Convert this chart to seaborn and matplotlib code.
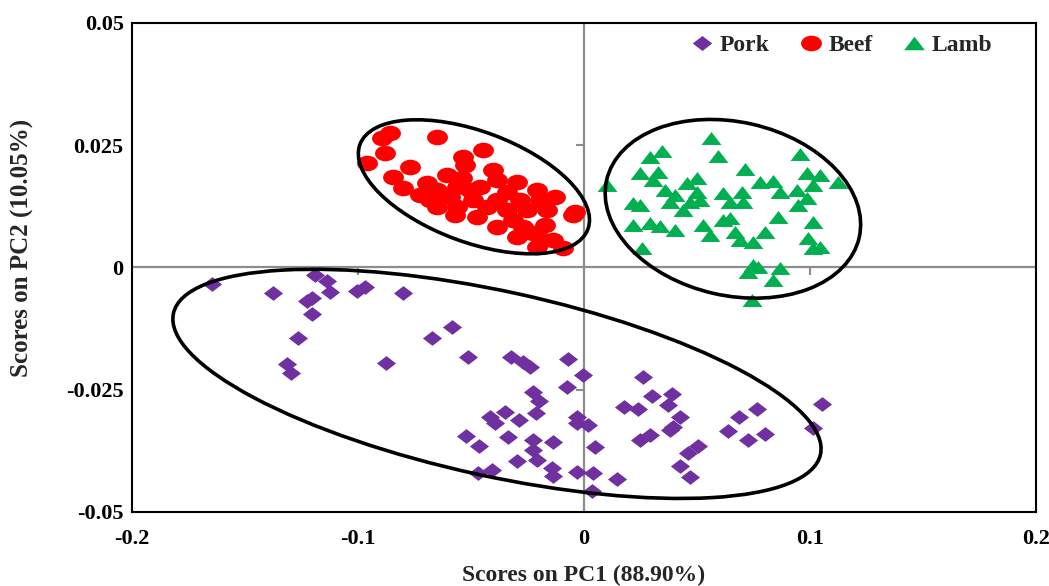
import numpy as np
import pandas as pd
import matplotlib
matplotlib.use("Agg")
import matplotlib.pyplot as plt
import seaborn as sns
from matplotlib.path import Path
from matplotlib.patches import Ellipse
from matplotlib.lines import Line2D
from matplotlib.transforms import Affine2D
from matplotlib import markers as mmarkers

# ---------------- data ----------------
pork_pc1 = [-0.1646, -0.1376, -0.1190, -0.1137, -0.1124, -0.1204, -0.1226, -0.1204, -0.1265,
            -0.1314, -0.1296, -0.1004, -0.0969, -0.0801, -0.0876, -0.0673, -0.0584, -0.0513,
            -0.0323, -0.0270, -0.0239, -0.0071, -0.0004, 0.0261, -0.0075, -0.0226, -0.0199,
            0.0301, 0.0389, 0.0372, 0.0177, 0.0239, -0.0416, -0.0350, -0.0394, -0.0288,
            -0.0212, -0.0031, -0.0031, 0.0018, 0.0425, 0.0394, 0.0381, 0.1053, 0.0686,
            0.0765, 0.0637, 0.0726, 0.0801, 0.1013, -0.0522, -0.0465, -0.0336, -0.0226,
            -0.0137, -0.0226, -0.0208, -0.0296, 0.0049, 0.0248, 0.0292, 0.0504, 0.0460,
            0.0425, 0.0469, -0.0469, -0.0407, -0.0142, -0.0137, -0.0031, 0.0040, 0.0146,
            0.0035]
pork_pc2 = [-0.0034, -0.0052, -0.0015, -0.0028, -0.0050, -0.0062, -0.0069, -0.0095, -0.0144,
            -0.0197, -0.0216, -0.0048, -0.0040, -0.0052, -0.0195, -0.0144, -0.0122, -0.0183,
            -0.0183, -0.0193, -0.0203, -0.0187, -0.0220, -0.0224, -0.0244, -0.0255, -0.0273,
            -0.0263, -0.0259, -0.0281, -0.0285, -0.0289, -0.0306, -0.0296, -0.0318, -0.0312,
            -0.0298, -0.0306, -0.0318, -0.0322, -0.0306, -0.0326, -0.0332, -0.0279, -0.0306,
            -0.0289, -0.0334, -0.0353, -0.0340, -0.0328, -0.0345, -0.0365, -0.0347, -0.0353,
            -0.0357, -0.0373, -0.0394, -0.0396, -0.0367, -0.0353, -0.0343, -0.0365, -0.0379,
            -0.0406, -0.0428, -0.0420, -0.0414, -0.0410, -0.0426, -0.0418, -0.0420, -0.0432,
            -0.0457]

beef_pc1 = [-0.0858, -0.0894, -0.0650, -0.0881, -0.0960, -0.0770, -0.0845, -0.0801, -0.0535,
            -0.0447, -0.0527, -0.0403, -0.0606, -0.0540, -0.0695, -0.0726, -0.0650, -0.0593,
            -0.0650, -0.0562, -0.0460, -0.0385, -0.0296, -0.0341, -0.0385, -0.0429, -0.0473,
            -0.0341, -0.0385, -0.0314, -0.0208, -0.0128, -0.0195, -0.0252, -0.0164, -0.0049,
            -0.0270, -0.0296, -0.0226, -0.0181, -0.0137, -0.0208, -0.0093, -0.0491, -0.0562,
            -0.0681, -0.0624, -0.0504, -0.0571, -0.0283, -0.0173, -0.0040]
beef_pc2 = [0.0275, 0.0265, 0.0267, 0.0234, 0.0214, 0.0206, 0.0185, 0.0163, 0.0226,
            0.0240, 0.0210, 0.0199, 0.0189, 0.0183, 0.0173, 0.0148, 0.0158, 0.0144,
            0.0124, 0.0124, 0.0165, 0.0179, 0.0175, 0.0154, 0.0138, 0.0124, 0.0103,
            0.0118, 0.0083, 0.0097, 0.0158, 0.0144, 0.0138, 0.0118, 0.0118, 0.0107,
            0.0083, 0.0062, 0.0071, 0.0056, 0.0056, 0.0042, 0.0040, 0.0138, 0.0165,
            0.0138, 0.0148, 0.0158, 0.0107, 0.0138, 0.0087, 0.0113]

lamb_pc1 = [0.0562, 0.0593, 0.0345, 0.0292, 0.0956, 0.0712, 0.0102, 0.0248, 0.0327, 0.0305,
            0.0456, 0.0500, 0.0358, 0.0403, 0.0500, 0.0615, 0.0699, 0.0779, 0.0836, 0.0867,
            0.0987, 0.1044, 0.1124, 0.1013, 0.0942, 0.0987, 0.0947, 0.0858, 0.0217, 0.0248,
            0.0381, 0.0438, 0.0469, 0.0513, 0.0646, 0.0704, 0.0217, 0.0292, 0.0336, 0.0403,
            0.0527, 0.0558, 0.0615, 0.0646, 0.0668, 0.0690, 0.0748, 0.0801, 0.1013, 0.0991,
            0.1044, 0.1013, 0.0257, 0.0748, 0.0770, 0.0726, 0.0867, 0.0836, 0.0743]
lamb_pc2 = [0.0265, 0.0228, 0.0238, 0.0226, 0.0232, 0.0201, 0.0169, 0.0193, 0.0195, 0.0179,
            0.0173, 0.0183, 0.0158, 0.0148, 0.0154, 0.0152, 0.0154, 0.0175, 0.0177, 0.0154,
            0.0193, 0.0189, 0.0175, 0.0169, 0.0158, 0.0142, 0.0128, 0.0103, 0.0132, 0.0128,
            0.0134, 0.0118, 0.0134, 0.0138, 0.0134, 0.0134, 0.0087, 0.0091, 0.0085, 0.0077,
            0.0087, 0.0066, 0.0097, 0.0101, 0.0073, 0.0056, 0.0052, 0.0073, 0.0093, 0.0060,
            0.0042, 0.0040, 0.0040, 0.0005, 0.0001, -0.0009, -0.0001, -0.0026, -0.0066]

groups = ["Pork", "Beef", "Lamb"]
colors = {"Pork": "#7030A0", "Beef": "#FF0000", "Lamb": "#00B050"}

# group outlines drawn in the chart (Pork, Beef, Lamb): centre in score units,
# semi-axes in PC1 units (on screen), tilt in degrees
ellipse_center_pc1 = [-0.0385, -0.0487, 0.0659]
ellipse_center_pc2 = [-0.0238, 0.0165, 0.0120]
ellipse_semi_major = [0.1465, 0.0538, 0.0573]
ellipse_semi_minor = [0.0409, 0.0245, 0.0384]
ellipse_tilt_deg = [-12.3, -20.4, -12.8]

x_ticks = [-0.2, -0.1, 0, 0.1, 0.2]
x_tick_labels = ["-0.2", "-0.1", "0", "0.1", "0.2"]
y_ticks = [-0.05, -0.025, 0, 0.025, 0.05]
y_tick_labels = ["-0.05", "-0.025", "0", "0.025", "0.05"]

df = pd.DataFrame({
    "PC1": pork_pc1 + beef_pc1 + lamb_pc1,
    "PC2": pork_pc2 + beef_pc2 + lamb_pc2,
    "Meat": ["Pork"] * len(pork_pc1) + ["Beef"] * len(beef_pc1) + ["Lamb"] * len(lamb_pc1),
})

# ---------------- styling ----------------
sns.set_theme(style="white")
plt.rcParams["font.family"] = ["Liberation Serif", "DejaVu Serif"]
plt.rcParams["font.weight"] = "bold"

diamond = Path([(-1, 0), (0, 0.77), (1, 0), (0, -0.77), (-1, 0)], closed=True)
triangle = Path([(-1, -0.65), (1, -0.65), (0, 0.65), (-1, -0.65)], closed=True)
_uc = Path.unit_circle()
oval = Path(_uc.vertices * np.array([1.0, 0.75]), _uc.codes)
marker_for = {"Pork": diamond, "Beef": oval, "Lamb": triangle}
size_for = {"Pork": 190, "Beef": 225, "Lamb": 205}

fig = plt.figure(figsize=(10.49, 5.86), dpi=100)
ax = fig.add_axes([0.1258, 0.1263, 0.9876 - 0.1258, 0.9608 - 0.1263])
ax.set_xlim(x_ticks[0], x_ticks[-1])
ax.set_ylim(y_ticks[0], y_ticks[-1])

# zero lines with their small ticks
grey = "#8c8c8c"
ax.axhline(0, color=grey, lw=1.6, zorder=1)
ax.axvline(0, color=grey, lw=1.6, zorder=1)
for xt in x_ticks:
    if xt not in (0, x_ticks[0], x_ticks[-1]):
        ax.plot([xt], [0], marker=mmarkers.TICKDOWN, ms=6, mew=1.5, color=grey, zorder=1)
for yt in y_ticks:
    if yt not in (0, y_ticks[0], y_ticks[-1]):
        ax.plot([0], [yt], marker=mmarkers.TICKLEFT, ms=6, mew=1.5, color=grey, zorder=1)

for g in groups:
    sub = df[df["Meat"] == g]
    sns.scatterplot(data=sub, x="PC1", y="PC2", ax=ax, color=colors[g],
                    marker=marker_for[g], s=size_for[g], linewidth=0, zorder=3,
                    legend=False)

# outlines: drawn on screen-isotropic units, then mapped into score units
bb = ax.get_window_extent()
px_per_x = bb.width / (x_ticks[-1] - x_ticks[0])
px_per_y = bb.height / (y_ticks[-1] - y_ticks[0])
k = px_per_x / px_per_y
for cx, cy, a, b, ang in zip(ellipse_center_pc1, ellipse_center_pc2, ellipse_semi_major,
                             ellipse_semi_minor, ellipse_tilt_deg):
    e = Ellipse((0, 0), 2 * a, 2 * b, angle=ang, fill=False, edgecolor="black",
                lw=2.6, zorder=4)
    e.set_transform(Affine2D().scale(1, k).translate(cx, cy) + ax.transData)
    ax.add_patch(e)

ax.set_xticks(x_ticks)
ax.set_xticklabels(x_tick_labels, fontsize=16, fontweight="bold")
ax.set_yticks(y_ticks)
ax.set_yticklabels(y_tick_labels, fontsize=16, fontweight="bold")
ax.tick_params(axis="both", length=0, colors="black")
ax.tick_params(axis="x", pad=12)
ax.tick_params(axis="y", pad=6)
for sp in ax.spines.values():
    sp.set_visible(True)
    sp.set_color("black")
    sp.set_linewidth(1.5)

ax.set_xlabel("Scores on PC1 (88.90%)", fontsize=17, fontweight="bold")
ax.set_ylabel("Scores on PC2 (10.05%)", fontsize=18, fontweight="bold")
ax.xaxis.set_label_coords(0.5, -0.108)
ax.yaxis.set_label_coords(-0.108, 0.54)

handles = [
    Line2D([], [], linestyle="none", marker=diamond, markersize=14, color=colors["Pork"], mew=0),
    Line2D([], [], linestyle="none", marker=oval, markersize=15, color=colors["Beef"], mew=0),
    Line2D([], [], linestyle="none", marker=triangle, markersize=15, color=colors["Lamb"], mew=0),
]
leg = ax.legend(handles, groups, loc="upper right", ncol=3, frameon=False,
                bbox_to_anchor=(0.975, 1.02), handletextpad=0.15, columnspacing=1.15,
                handlelength=1.2, prop={"family": "Liberation Serif", "weight": "bold", "size": 17})

fig.savefig("out.png", dpi=100, facecolor="white")
